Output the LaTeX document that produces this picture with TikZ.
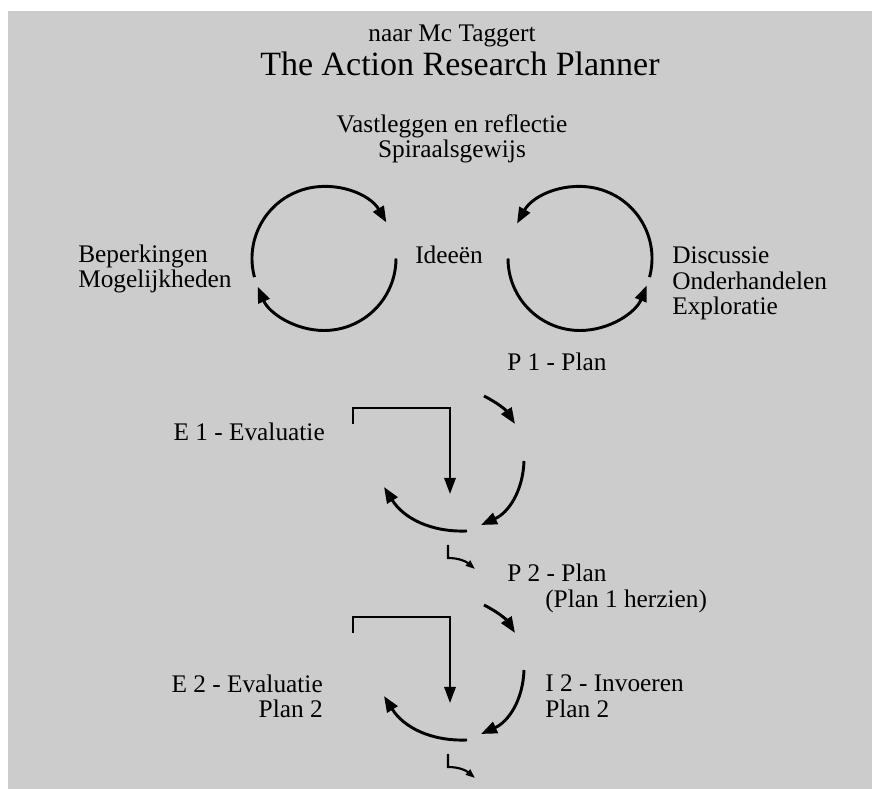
\documentclass[tikz,border=0pt]{standalone}
\usepackage{fontspec}
\setmainfont{Liberation Serif}
\usetikzlibrary{arrows.meta,calc}
\definecolor{planbg}{HTML}{CCCCCC}
\tikzset{
    arp arc/.style={-{Triangle[length=12pt,width=9pt]}, line width=2.2pt},
    arp bracket/.style={-{Triangle[length=12pt,width=8.5pt]}, line width=1.6pt},
    arp tail/.style={-{Triangle[length=7pt,width=5pt]}, line width=1.6pt},
    arp label/.style={font=\fontsize{19}{19}\selectfont, inner sep=0pt},
    arp title/.style={font=\fontsize{25.5}{27}\selectfont, inner sep=0pt}
}

\begin{document}
\begin{tikzpicture}[x=0.75pt,y=0.75pt]
    \useasboundingbox (0,0) rectangle (872,789);
    \fill[planbg] (8,0) rectangle (872,778);

    % kop
    \node[arp label, anchor=base] (naar) at (452,747) {naar Mc Taggert};
    \node[arp title, anchor=base west] (titel) at (260,713) {The Action Research Planner};
    \node[arp label, anchor=base] (vast) at (452,656) {Vastleggen en reflectie};
    \node[arp label, anchor=base] (spir) at (452,631) {Spiraalsgewijs};

    % twee cirkels
    \coordinate (lc) at (324,530.5);
    \coordinate (rc) at (580,530.5);
    \draw[arp arc] ($(lc)+(195:72)$) arc[start angle=195,end angle=30,radius=72];
    \draw[arp arc] ($(lc)+(0:72)$) arc[start angle=0,end angle=-157,radius=72];
    \draw[arp arc] ($(rc)+(-15:72)$) arc[start angle=-15,end angle=151,radius=72];
    \draw[arp arc] ($(rc)+(180:72)$) arc[start angle=180,end angle=338,radius=72];

    \node[arp label, anchor=base west] (beperk) at (78,526) {Beperkingen};
    \node[arp label, anchor=base west] (mogel) at (78,501) {Mogelijkheden};
    \node[arp label, anchor=base west] (idee) at (415,525) {Ideeën};
    \node[arp label, anchor=base west] (disc) at (672,525) {Discussie};
    \node[arp label, anchor=base west] (onder) at (672,499) {Onderhandelen};
    \node[arp label, anchor=base west] (expl) at (672,474) {Exploratie};

    % spiraal, twee keer
    \foreach \k/\dy in {1/0,2/209} {
        \coordinate (sa\k) at (484,393-\dy);
        \coordinate (ea\k) at (515,365-\dy);
        \coordinate (k1\k) at (353,365-\dy);
        \coordinate (k2\k) at (353,381-\dy);
        \coordinate (k3\k) at (450,381-\dy);
        \coordinate (k4\k) at (450,295-\dy);
        \coordinate (r1\k) at (524,328-\dy);
        \coordinate (r2\k) at (481,264-\dy);
        \coordinate (o1\k) at (467,258-\dy);
        \coordinate (o2\k) at (384,302-\dy);
        \coordinate (t1\k) at (448,244-\dy);
        \coordinate (t2\k) at (448,231-\dy);
        \coordinate (t3\k) at (475,220-\dy);

        \draw[arp arc] (sa\k) to[bend left=15] (ea\k);
        \draw[arp bracket] (k1\k) -- (k2\k) -- (k3\k) -- (k4\k);
        \draw[arp arc] (r1\k) to[bend left=32] (r2\k);
        \draw[arp arc] (o1\k) to[bend left=30] (o2\k);
        \draw[arp tail] (t1\k) -- (t2\k) to[out=0,in=140] (t3\k);
    }

    \node[arp label, anchor=base west] (p1) at (507,418) {P 1 - Plan};
    \node[arp label, anchor=base east] (e1) at (325,348) {E 1 - Evaluatie};
    \node[arp label, anchor=base west] (p2) at (507,207) {P 2 - Plan};
    \node[arp label, anchor=base west] (herz) at (545,181) {(Plan 1 herzien)};
    \node[arp label, anchor=base east] (e2) at (323,96) {E 2 - Evaluatie};
    \node[arp label, anchor=base east] (e2p) at (323,71) {Plan 2};
    \node[arp label, anchor=base west] (i2) at (545,97) {I 2 - Invoeren};
    \node[arp label, anchor=base west] (i2p) at (545,71) {Plan 2};
\end{tikzpicture}
\end{document}
